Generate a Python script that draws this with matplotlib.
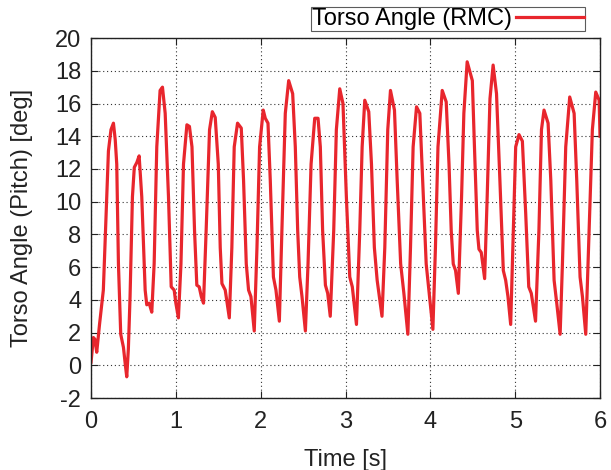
"""Torso pitch angle over time, gnuplot-like look."""
import matplotlib
matplotlib.use("Agg")
import matplotlib.pyplot as plt

# values
time_s = [
    0.00, 0.028, 0.045, 0.067, 0.10, 0.145, 0.185, 0.205, 0.235, 0.264, 0.285,
    0.303, 0.323, 0.35, 0.382, 0.405, 0.421, 0.44, 0.46, 0.488, 0.51,
    0.54, 0.567, 0.598, 0.638, 0.657, 0.685, 0.716, 0.744, 0.775, 0.814,
    0.842, 0.874, 0.913, 0.945, 0.98, 1.00, 1.03, 1.06, 1.09, 1.13,
    1.16, 1.19, 1.22, 1.247, 1.275, 1.30, 1.326, 1.357, 1.397, 1.43,
    1.464, 1.50, 1.523, 1.543, 1.582, 1.63, 1.66, 1.688, 1.727, 1.771,
    1.798, 1.83, 1.857, 1.885, 1.924, 1.956, 1.987, 2.03, 2.054, 2.086,
    2.113, 2.15, 2.18, 2.22, 2.25, 2.29, 2.33, 2.377, 2.408, 2.436,
    2.46, 2.487, 2.527, 2.558, 2.594, 2.637, 2.676, 2.703, 2.73, 2.763,
    2.79, 2.82, 2.861, 2.892, 2.932, 2.97, 3.01, 3.05, 3.08, 3.129,
    3.168, 3.196, 3.227, 3.274, 3.306, 3.34, 3.373, 3.43, 3.463, 3.498,
    3.53, 3.577, 3.609, 3.65, 3.688, 3.735, 3.766, 3.797, 3.837, 3.876,
    3.91, 3.951, 3.99, 4.03, 4.06, 4.09, 4.14, 4.187, 4.22, 4.246,
    4.27, 4.297, 4.33, 4.368, 4.395, 4.434, 4.495, 4.52, 4.553, 4.573,
    4.60, 4.64, 4.67, 4.703, 4.74, 4.78, 4.82, 4.86, 4.888, 4.915,
    4.947, 4.978, 5.006, 5.045, 5.085, 5.124, 5.16, 5.19, 5.24, 5.28,
    5.31, 5.34, 5.388, 5.42, 5.459, 5.49, 5.53, 5.557, 5.596, 5.643,
    5.695, 5.726, 5.765, 5.793, 5.832, 5.872, 5.91, 5.95, 5.99, 6.00,
]
pitch_deg = [
    0.2, 1.7, 1.6, 0.8, 2.5, 4.6, 10.3, 13.1, 14.4, 14.8, 13.8,
    12.3, 6.2, 1.9, 1.1, 0.0, -0.7, 1.0, 4.2, 10.3, 12.1,
    12.4, 12.8, 10.3, 4.6, 3.7, 3.8, 3.25, 6.2, 13.35, 16.8,
    17.0, 15.4, 10.3, 4.8, 4.6, 3.8, 2.9, 6.2, 12.3, 14.7,
    14.6, 13.35, 8.25, 4.9, 4.8, 4.2, 3.8, 8.25, 14.4, 15.5,
    15.15, 12.3, 7.2, 5.0, 4.6, 2.9, 7.2, 13.35, 14.8, 14.5,
    11.3, 6.2, 4.6, 4.2, 2.1, 7.2, 13.35, 15.6, 15.1, 14.8,
    11.3, 5.4, 4.6, 2.7, 8.25, 15.4, 17.4, 16.6, 13.35, 8.25,
    5.4, 4.2, 2.1, 6.2, 12.3, 15.1, 15.1, 13.35, 8.25, 4.9,
    4.4, 3.0, 8.25, 14.4, 16.9, 16.0, 10.3, 5.4, 4.8, 2.5,
    8.25, 13.35, 16.2, 15.5, 12.3, 7.2, 5.2, 3.0, 7.2, 14.4,
    16.8, 15.6, 11.3, 6.2, 4.4, 1.9, 7.2, 13.35, 15.8, 15.4,
    11.3, 6.2, 4.2, 2.2, 7.2, 13.35, 16.8, 16.1, 12.3, 8.25,
    6.2, 5.8, 4.4, 10.3, 15.4, 18.55, 17.4, 13.35, 8.25, 7.1,
    6.9, 5.3, 10.3, 16.3, 18.35, 16.6, 11.3, 5.8, 5.2, 4.2,
    2.5, 8.25, 13.35, 14.1, 13.7, 9.3, 4.8, 4.4, 2.7, 8.25,
    14.4, 15.6, 14.8, 11.3, 5.2, 3.8, 1.9, 6.2, 13.35, 16.4,
    15.4, 11.3, 5.4, 4.2, 1.9, 8.25, 14.4, 16.7, 16.2, 14.0,
]

x_ticks = [0, 1, 2, 3, 4, 5, 6]
y_ticks = list(range(-2, 21, 2))

plt.rcParams["font.family"] = ["Liberation Sans", "DejaVu Sans"]
plt.rcParams["axes.unicode_minus"] = False

fig = plt.figure(figsize=(6.11, 4.70), dpi=100)
ax = fig.add_axes([0.149, 0.153, 0.833, 0.766])

ax.plot(time_s, pitch_deg, color="#e8262d", lw=2.3, solid_joinstyle="round",
        label="Torso Angle (RMC)")

ax.set_xlim(0, 6)
ax.set_ylim(-2, 20)
ax.set_xticks(x_ticks)
ax.set_yticks(y_ticks)
ax.tick_params(direction="in", top=True, right=True, length=5, width=0.8,
               labelsize=17, colors="#222222")
ax.tick_params(axis="x", pad=9)
ax.tick_params(axis="y", pad=7)
ax.grid(True, ls=(0, (1, 2.5)), color="#333333", lw=0.8)
for s in ax.spines.values():
    s.set_linewidth(1.0)
    s.set_color("#222222")

ax.set_xlabel("Time [s]", fontsize=17, color="#222222", labelpad=12)
ax.set_ylabel("Torso Angle (Pitch) [deg]", fontsize=17, color="#222222", labelpad=16)

leg = ax.legend(loc="lower left", bbox_to_anchor=(0.432, 1.019), markerfirst=False,
                fontsize=17, frameon=True, fancybox=False, borderpad=0.05,
                handlelength=2.9, handletextpad=0.15, borderaxespad=0.0)
leg.get_frame().set_edgecolor("#333333")
leg.get_frame().set_linewidth(0.8)

fig.savefig("out.png", dpi=100)
